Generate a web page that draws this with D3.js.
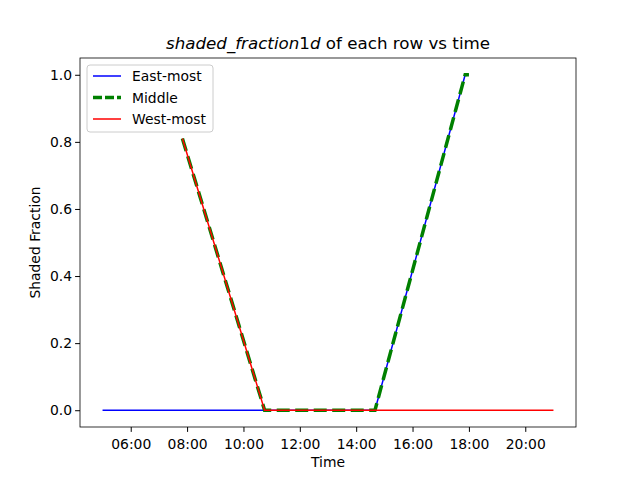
<!DOCTYPE html>
<html><head><meta charset="utf-8">
<script src="https://cdn.jsdelivr.net/npm/d3@7"></script>
<style>body{margin:0;background:#fff}text{font-family:"DejaVu Sans",sans-serif}</style>
</head><body><svg id="c" width="640" height="480"></svg>
<script>
const eastTimes=["05:00","14:40","17:52","18:00"];
const eastVals=[0,0,1.0,1.0];
const middleTimes=["07:50","10:45","14:40","17:52","18:00"];
const middleVals=[0.81,0,0,1.0,1.0];
const westTimes=["07:50","10:45","21:00"];
const westVals=[0.81,0,0];
const xTicks=["06:00","08:00","10:00","12:00","14:00","16:00","18:00","20:00"];
const yTicks=[0,0.2,0.4,0.6,0.8,1.0];
const h=s=>{const [a,b]=s.split(":").map(Number);return a+b/60;};
const svg=d3.select("#c");
const L=80,R=576,T=58,B=427,FS=13.9;
const x=d3.scaleLinear().domain([5-0.8,21+0.8]).range([L,R]);
const y=d3.scaleLinear().domain([-0.05,1.05]).range([B,T]);
const line=d3.line().x(d=>x(d[0])).y(d=>y(d[1]));
const series=[
 {n:"East-most",t:eastTimes,v:eastVals,c:"blue",w:1.5,da:null},
 {n:"Middle",t:middleTimes,v:middleVals,c:"green",w:3.5,da:"13,5.5"},
 {n:"West-most",t:westTimes,v:westVals,c:"red",w:1.5,da:null}];
series.forEach(s=>{
 svg.append("path").attr("d",line(s.t.map((t,i)=>[h(t),s.v[i]]))).attr("fill","none")
  .attr("stroke",s.c).attr("stroke-width",s.w).attr("stroke-dasharray",s.da);
});
const gx=svg.append("g").attr("transform",`translate(0,${B})`)
 .call(d3.axisBottom(x).tickValues(xTicks.map(h)).tickFormat((d,i)=>xTicks[i]).tickSize(4.9).tickSizeOuter(0));
const gy=svg.append("g").attr("transform",`translate(${L},0)`)
 .call(d3.axisLeft(y).tickValues(yTicks).tickFormat(d3.format(".1f")).tickSize(4.9).tickSizeOuter(0));
[gx,gy].forEach(g=>{g.attr("font-family",null).attr("font-size",null);g.select(".domain").remove();g.selectAll("text").attr("font-size",FS).attr("fill","#000");g.selectAll("line").attr("stroke","#000");});
gx.selectAll("text").attr("y",9).attr("dy","0.9em");
gy.selectAll("text").attr("x",-8);
svg.append("rect").attr("x",L).attr("y",T).attr("width",R-L).attr("height",B-T).attr("fill","none").attr("stroke","#000").attr("stroke-width",0.8);
svg.append("text").attr("x",(L+R)/2).attr("y",467).attr("text-anchor","middle").attr("font-size",FS).text("Time");
svg.append("text").attr("transform",`translate(40,${(T+B)/2}) rotate(-90)`).attr("text-anchor","middle").attr("font-size",FS).text("Shaded Fraction");
const tt=svg.append("text").attr("x",(L+R)/2).attr("y",49).attr("text-anchor","middle").attr("font-size",16.7);
tt.append("tspan").attr("font-style","italic").text("shaded_fraction");
tt.append("tspan").text("1");
tt.append("tspan").attr("font-style","italic").text("d");
tt.append("tspan").text(" of each row vs time");
const lg=svg.append("g");
lg.append("rect").attr("x",87).attr("y",65).attr("width",126).attr("height",67).attr("rx",3).attr("fill","#fff").attr("fill-opacity",0.8).attr("stroke","#ccc");
series.forEach((s,i)=>{
 const yy=76+i*21.5;
 lg.append("line").attr("x1",93).attr("x2",121).attr("y1",yy).attr("y2",yy).attr("stroke",s.c).attr("stroke-width",s.w).attr("stroke-dasharray",s.da?"9,3":null);
 lg.append("text").attr("x",132).attr("y",yy+5).attr("font-size",FS).text(s.n);
});
</script></body></html>
